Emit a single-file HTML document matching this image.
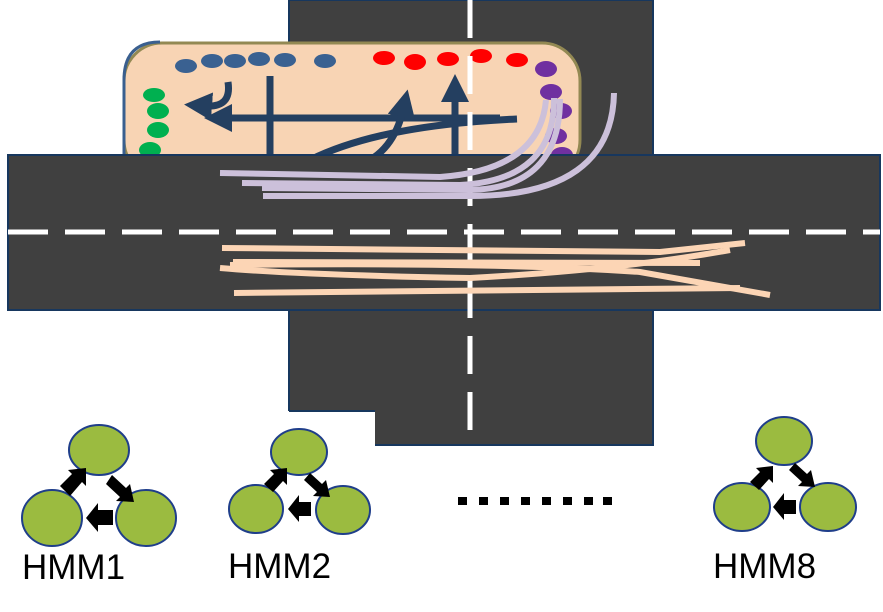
<!DOCTYPE html>
<html><head><meta charset="utf-8"><style>
html,body{margin:0;padding:0;background:#fff;width:883px;height:612px;overflow:hidden}
svg text{font-family:"Liberation Sans",Arial,sans-serif}
</style></head><body>
<svg width="883" height="612" viewBox="0 0 883 612">
<defs>
<marker id="ah" markerWidth="4" markerHeight="4" refX="1" refY="2" orient="auto" markerUnits="strokeWidth"><path d="M0,0 L4,2 L0,4 z" fill="#243f60"/></marker>
</defs>
<g>
<rect x="289" y="0" width="364" height="445" fill="#404040" stroke="#17375e" stroke-width="2"/>
<rect x="286" y="411" width="89" height="40" fill="#fff"/>
<line x1="289" y1="411" x2="375" y2="411" stroke="#17375e" stroke-width="2"/>
</g>
<g>
<rect x="124" y="43" width="456" height="135" rx="38" fill="#f8d4b4" stroke="#938953" stroke-width="3"/>
<path d="M124,160 L124,80 Q124,42 160,42" fill="none" stroke="#3a5f8f" stroke-width="3"/>
</g>
<g>
<g fill="#3a6191">
<ellipse cx="186" cy="66" rx="11" ry="7"/><ellipse cx="212" cy="61" rx="11" ry="7"/><ellipse cx="235" cy="61" rx="11" ry="7"/><ellipse cx="259" cy="59" rx="11" ry="7"/><ellipse cx="285" cy="60" rx="11" ry="7"/><ellipse cx="325" cy="61" rx="11" ry="7"/>
</g>
<g fill="#ff0000">
<ellipse cx="384" cy="58" rx="11" ry="7"/><ellipse cx="415" cy="62" rx="11" ry="8"/><ellipse cx="448" cy="59" rx="11" ry="7"/><ellipse cx="481" cy="56" rx="11" ry="7"/><ellipse cx="517" cy="60" rx="11" ry="7"/>
</g>
<g fill="#7030a0">
<ellipse cx="546" cy="69" rx="11" ry="8"/><ellipse cx="551" cy="92" rx="11" ry="8"/><ellipse cx="561" cy="111" rx="11" ry="8"/><ellipse cx="556" cy="136" rx="11" ry="8"/><ellipse cx="562" cy="155" rx="11" ry="8"/>
</g>
<g fill="#00b050">
<ellipse cx="154" cy="95" rx="11" ry="7"/><ellipse cx="158" cy="111" rx="11" ry="8"/><ellipse cx="158" cy="130" rx="11" ry="8"/><ellipse cx="150" cy="150" rx="11" ry="8"/>
</g>
</g>
<g stroke="#243f60" fill="none" stroke-width="7">
<line x1="270" y1="76" x2="270" y2="160"/>
<line x1="500" y1="118" x2="225" y2="118" marker-end="url(#ah)"/>
<path d="M228,82 Q232,108 205,106" marker-end="url(#ah)"/>
<line x1="455" y1="160" x2="455" y2="95" marker-end="url(#ah)"/>
<path d="M310,160 Q380,125 517,119"/>
<path d="M370,160 Q395,145 403,110" marker-end="url(#ah)"/>
</g>
<g>
<rect x="8" y="155" width="872" height="155" fill="#404040" stroke="#17375e" stroke-width="2"/>
</g>
<g stroke="#fff" stroke-width="5">
<line x1="8" y1="232" x2="880" y2="232" stroke-dasharray="40,17"/>
<line x1="470" y1="0" x2="470" y2="445" stroke-dasharray="38,18"/>
</g>
<g stroke="#ccc0da" stroke-width="6" fill="none">
<path d="M220,173 L440,177 Q540,170 546,100"/>
<path d="M242,183 L460,185 Q555,180 554,98"/>
<path d="M262,188 L470,190 Q560,188 560,99"/>
<path d="M263,196 L470,196 Q612,196 614,93"/>
</g>
<g stroke="#fcd5b5" stroke-width="6" fill="none">
<path d="M222,248 L660,252 L745,243"/>
<path d="M233,262 L700,263"/>
<path d="M220,268 Q300,275 470,278 Q620,270 730,250"/>
<path d="M230,265 Q500,262 640,272 L770,295"/>
<path d="M234,293 L740,288"/>
</g>
<g fill="#9bbb40" stroke="#1f3e8a" stroke-width="2">
<ellipse cx="99" cy="450" rx="30" ry="25"/><ellipse cx="52" cy="518" rx="30" ry="28"/><ellipse cx="146" cy="518" rx="30" ry="28"/>
</g>
<g fill="#9bbb40" stroke="#1f3e8a" stroke-width="2">
<ellipse cx="299" cy="452" rx="28" ry="23"/><ellipse cx="256" cy="509" rx="27" ry="24"/><ellipse cx="343" cy="510" rx="27" ry="24"/>
</g>
<g fill="#9bbb40" stroke="#1f3e8a" stroke-width="2">
<ellipse cx="784" cy="441" rx="28" ry="24"/><ellipse cx="742" cy="507" rx="28" ry="24"/><ellipse cx="828" cy="507" rx="28" ry="24"/>
</g>
<g fill="#000">
<polygon points="60,486 72,474 68,470 86,468 86,486 82,482 70,496"/>
<polygon points="112,475 126,488 130,484 134,502 116,501 120,497 106,484"/>
<polygon points="113,510 98,510 98,503 86,518 98,532 98,525 113,525"/>
<polygon points="264,484 274,474 270,470 287,468 287,485 283,481 273,492"/>
<polygon points="310,473 322,484 326,480 330,497 313,496 317,492 304,480"/>
<polygon points="311,502 299,502 299,495 288,509 299,522 299,516 311,516"/>
<polygon points="750,482 760,472 756,468 773,466 773,483 769,479 759,490"/>
<polygon points="795,463 807,474 811,470 815,487 798,486 802,482 789,470"/>
<polygon points="796,500 784,500 784,493 773,507 784,520 784,514 796,514"/>
</g>
<g fill="#000">
<rect x="458" y="497" width="9" height="8"/><rect x="479" y="497" width="9" height="8"/><rect x="500" y="497" width="9" height="8"/><rect x="521" y="497" width="9" height="8"/><rect x="542" y="497" width="9" height="8"/><rect x="563" y="497" width="9" height="8"/><rect x="584" y="497" width="9" height="8"/><rect x="603" y="497" width="9" height="8"/>
</g>
<text x="22" y="579" font-size="35" fill="#000">HMM1</text>
<text x="228" y="578" font-size="35" fill="#000">HMM2</text>
<text x="713" y="578" font-size="35" fill="#000">HMM8</text>
</svg>
</body></html>
